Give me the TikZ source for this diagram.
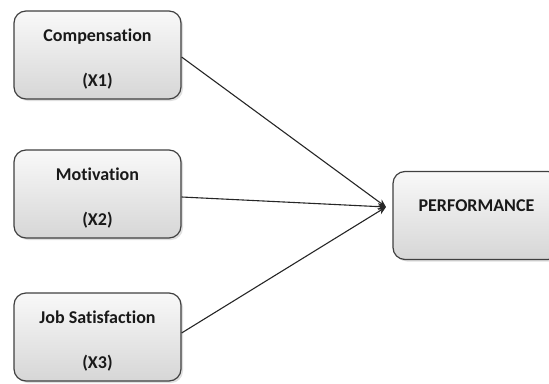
\documentclass[tikz,border=0pt]{standalone}
\usepackage{fontspec}
\setmainfont{Carlito}[Ligatures=NoCommon]
\usetikzlibrary{arrows.meta,shadows}

\newcommand{\boxlines}[2]{\rule{0pt}{21pt}#1\\[23pt]#2}

\tikzset{
  varbox/.style={draw=black!75, line width=1.2pt, rounded corners=12pt,
    top color=gray!5, bottom color=gray!32,
    minimum width=167pt, minimum height=88pt,
    drop shadow={shadow xshift=2pt, shadow yshift=-2pt, opacity=0.25},
    font=\fontsize{18}{22}\selectfont\bfseries, text=black!90, align=center},
  link/.style={line width=1.1pt, black!85, -{Stealth[length=8pt,width=7pt]}}
}

\begin{document}
\begin{tikzpicture}[x=1pt,y=-1pt]
\useasboundingbox (0,0) rectangle (549,383);
\path (97.5,55) node[varbox] (comp) {\boxlines{Compensation}{(X1)}};
\path (97.5,194) node[varbox] (motiv) {\boxlines{Motivation}{(X2)}};
\path (97.5,337) node[varbox] (jobsat) {\boxlines{Job Satisfaction}{(X3)}};
\path (476.5,215.5) node[varbox, text depth=20pt] (perf) {PERFORMANCE};
\coordinate (tip) at (386,207);
\draw[link] ([yshift=-2pt]comp.east) -- (tip);
\draw[link] ([yshift=-3pt]motiv.east) -- (tip);
\draw[link] ([yshift=4pt]jobsat.east) -- (tip);
\end{tikzpicture}
\end{document}
